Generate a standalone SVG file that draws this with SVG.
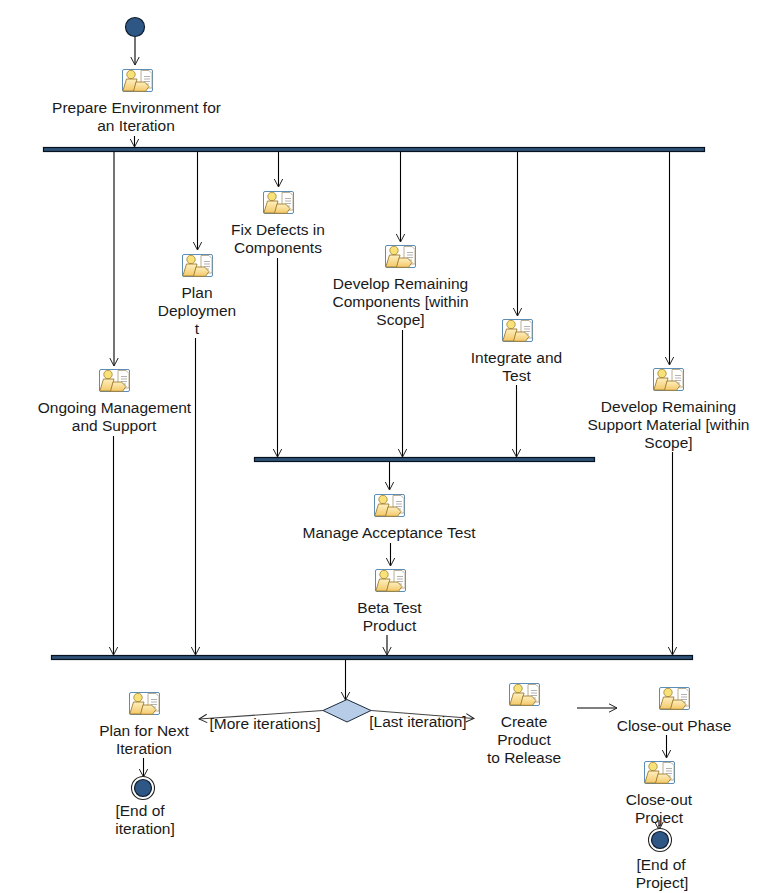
<svg xmlns="http://www.w3.org/2000/svg" width="762" height="893" viewBox="0 0 762 893">
<style>
text{font-family:"Liberation Sans",Arial,sans-serif;font-size:15.5px;fill:#1a1a1a;text-anchor:middle}
.c{fill:none;stroke:#000;stroke-width:1.1;marker-end:url(#a)}
.g{fill:none;stroke:#444;stroke-width:1.1;marker-end:url(#a)}
.bar{fill:#2f5377;stroke:#06121f;stroke-width:1.2}
.dot{fill:#2f5785;stroke:#0d1c2e;stroke-width:1.2}
.ring{fill:#fff;stroke:#222;stroke-width:1.1}
</style>
<defs>
<marker id="a" viewBox="0 0 10 10" refX="9" refY="5" markerWidth="10" markerHeight="10" markerUnits="userSpaceOnUse" orient="auto"><path d="M1 0.8L9 5L1 9.2" fill="none" stroke="#222" stroke-width="1"/></marker>
<linearGradient id="y" x1="0" y1="0" x2="0" y2="1"><stop offset="0" stop-color="#fdf0c0"/><stop offset="1" stop-color="#f4c868"/></linearGradient>
<symbol id="icon" viewBox="0 0 31 23" width="31" height="23" overflow="visible">
<rect x="0.5" y="0.5" width="30" height="22" rx="1.5" fill="#fff" stroke="#5b8db5"/>
<path d="M19 1.5H27L30 4.5V19H19Z" fill="#fff" stroke="#a89a78" stroke-width=".8"/>
<path d="M22 7.500H28M22 10H28M22 12.500H28M22 15H27" stroke="#a9a9a9" stroke-width=".9"/>
<circle cx="9" cy="5.500" r="4.200" fill="#f7e27a" stroke="#b08a3a" stroke-width=".9"/>
<path d="M4.500 10H15L12 22H0.800Z" fill="url(#y)" stroke="#a07c30" stroke-width=".9"/>
<path d="M14 13H22.500L27 17.500L23.500 22.300H11.500Z" fill="url(#y)" stroke="#a07c30" stroke-width=".9"/>
</symbol>
</defs>
<g id="connectors">
<path class="c" d="M135 37V65"/>
<path class="c" d="M134.500 136V147"/>
<path class="c" d="M114 152V366"/>
<path class="c" d="M197.500 152V250"/>
<path class="c" d="M278.500 152V187"/>
<path class="c" d="M400.500 152V242"/>
<path class="c" d="M517.500 152V316"/>
<path class="c" d="M669.500 152V365"/>
<path class="c" d="M277.500 258V457"/>
<path class="c" d="M402.500 330V457"/>
<path class="c" d="M516.500 385V457"/>
<path class="c" d="M113.500 436V655"/>
<path class="c" d="M195.500 338V655"/>
<path class="c" d="M672.500 452V655"/>
<path class="c" d="M389.500 462V490"/>
<path class="c" d="M390.500 543V566"/>
<path class="c" d="M387 635V655"/>
<path class="c" d="M345.500 660V700"/>
<path class="g" d="M323 710.500L199 719"/>
<path class="g" d="M371 710.500L474 718.500"/>
<path class="c" d="M577 708H617"/>
<path class="c" d="M666.500 735V758"/>
<path class="c" d="M143.500 758V777"/>
<path class="c" d="M659 820V830"/>
</g>
<g id="bar-top"><rect class="bar" x="43.500" y="147.500" width="661" height="4"/></g>
<g id="bar-mid"><rect class="bar" x="254.500" y="457.500" width="340" height="4"/></g>
<g id="bar-bottom"><rect class="bar" x="51.500" y="655.500" width="641" height="4"/></g>
<g id="start"><circle class="dot" cx="135" cy="27" r="9.500"/></g>
<g id="prepare"><use href="#icon" x="122" y="69"/><text x="136.500" y="112.800">Prepare Environment for</text><text x="136" y="130.800">an Iteration</text></g>
<g id="ongoing"><use href="#icon" x="99" y="369"/><text x="114.500" y="412.800">Ongoing Management</text><text x="114" y="430.800">and Support</text></g>
<g id="plan-deployment"><use href="#icon" x="182" y="254"/><text x="197" y="297.800">Plan</text><text x="197" y="315.800">Deploymen</text><text x="197" y="333.800">t</text></g>
<g id="fix-defects"><use href="#icon" x="263" y="191"/><text x="278" y="234.800">Fix Defects in</text><text x="278" y="252.800">Components</text></g>
<g id="develop-components"><use href="#icon" x="385" y="245"/><text x="400.500" y="288.800">Develop Remaining</text><text x="400.500" y="306.800">Components [within</text><text x="400.500" y="324.800">Scope]</text></g>
<g id="integrate"><use href="#icon" x="502" y="319"/><text x="516.500" y="362.800">Integrate and</text><text x="516.500" y="380.800">Test</text></g>
<g id="develop-support"><use href="#icon" x="653" y="368"/><text x="668.500" y="411.800">Develop Remaining</text><text x="668.500" y="429.800">Support Material [within</text><text x="668.500" y="447.800">Scope]</text></g>
<g id="acceptance"><use href="#icon" x="374" y="494"/><text x="389" y="537.800">Manage Acceptance Test</text></g>
<g id="beta"><use href="#icon" x="375" y="569"/><text x="389.500" y="612.800">Beta Test</text><text x="389.500" y="630.800">Product</text></g>
<g id="decision"><path d="M323 710.500L347 699.500L371 710.500L347 722Z" fill="#b7cce6" stroke="#1d2c3d" stroke-width="1"/></g>
<g id="more-label"><text x="265" y="728.800">[More iterations]</text></g>
<g id="last-label"><text x="418" y="726.800">[Last iteration]</text></g>
<g id="plan-next"><use href="#icon" x="129" y="692"/><text x="144" y="735.800">Plan for Next</text><text x="144" y="753.800">Iteration</text></g>
<g id="end-iteration"><circle class="ring" cx="143" cy="788" r="11.500"/><circle class="dot" cx="143" cy="788" r="8.500"/><text x="140" y="815.800">[End of</text><text x="145" y="833.800">iteration]</text></g>
<g id="create"><use href="#icon" x="509" y="683"/><text x="524" y="726.800">Create</text><text x="524" y="744.800">Product</text><text x="524" y="762.800">to Release</text></g>
<g id="closeout-phase"><use href="#icon" x="659" y="687"/><text x="674" y="730.800">Close-out Phase</text></g>
<g id="closeout-project"><use href="#icon" x="644" y="761"/><text x="659" y="804.800">Close-out</text><text x="659" y="822.800">Project</text></g>
<g id="end-project"><circle class="ring" cx="660" cy="840" r="11.500"/><circle class="dot" cx="660" cy="840" r="8.500"/><text x="661" y="869.800">[End of</text><text x="662" y="887.800">Project]</text></g>
</svg>
